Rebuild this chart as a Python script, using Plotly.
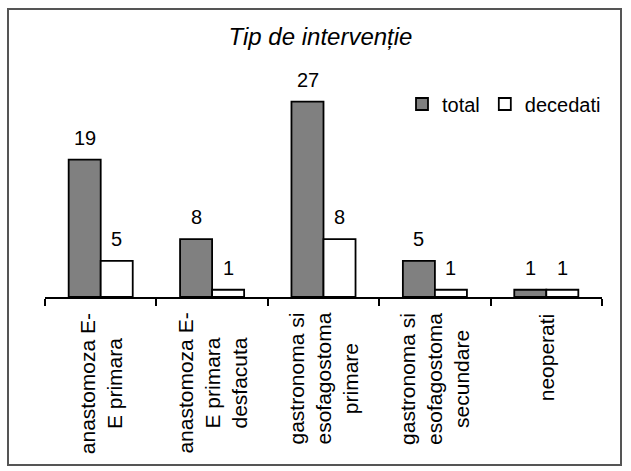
import plotly.graph_objects as go

# Intervention types (line breaks as printed under the axis)
categories = [
    "anastomoza E-<br>E primara",
    "anastomoza E-<br>E primara<br>desfacuta",
    "gastronoma si<br>esofagostoma<br>primare",
    "gastronoma si<br>esofagostoma<br>secundare",
    "neoperati",
]
total = [19, 8, 27, 5, 1]
decedati = [5, 1, 8, 1, 1]
series_names = ["total", "decedati"]
title_text = "Tip de intervenție"

W, H = 631, 471
ML, MR, MT, MB = 45, 29, 80, 174
PW, PH = W - ML - MR, H - MT - MB
FONT = "Liberation Sans, Arial, sans-serif"


def px_x(x):
    return (x - ML) / PW


def px_y(y):
    return (H - MB - y) / PH


fig = go.Figure()
fig.add_trace(go.Bar(
    x=categories, y=total, name=series_names[0],
    marker=dict(color="#808080", line=dict(color="black", width=1.8)),
))
fig.add_trace(go.Bar(
    x=categories, y=decedati, name=series_names[1],
    marker=dict(color="white", line=dict(color="black", width=1.8)),
))

annotations = []
# value labels above each bar
for values, shift in ((total, -16), (decedati, 16)):
    for cat, v in zip(categories, values):
        annotations.append(dict(
            x=cat, y=v, xref="x", yref="y", text=str(v), showarrow=False,
            xshift=shift, yshift=9, yanchor="bottom",
            font=dict(family=FONT, size=20, color="black"),
        ))
# rotated category labels under the axis
for cat in categories:
    annotations.append(dict(
        x=cat, y=px_y(311), xref="x", yref="paper", text=cat,
        showarrow=False, textangle=-90, yanchor="top", xanchor="center",
        align="center", font=dict(family=FONT, size=21, color="black"),
    ))

fig.update_layout(
    width=W, height=H,
    margin=dict(l=ML, r=MR, t=MT, b=MB),
    paper_bgcolor="white", plot_bgcolor="white",
    barmode="group", bargap=0.425, bargroupgap=0,
    title=dict(
        text=title_text, x=320.5 / W, xanchor="center",
        y=1 - 37 / H, yanchor="middle", yref="container",
        font=dict(family=FONT, size=24, color="black", style="italic"),
    ),
    xaxis=dict(
        range=[-0.5, len(categories) - 0.5], showgrid=False,
        showline=True, linecolor="black", linewidth=2,
        ticks="outside", tickson="boundaries", ticklen=7, tickwidth=2,
        tickcolor="black", showticklabels=False, fixedrange=True,
    ),
    yaxis=dict(range=[0, 30], visible=False, showgrid=False, fixedrange=True),
    legend=dict(
        orientation="h", x=px_x(606), xanchor="right",
        y=px_y(104), yanchor="middle", itemwidth=30,
        font=dict(family=FONT, size=20, color="black"),
        bgcolor="rgba(0,0,0,0)", traceorder="normal",
    ),
    showlegend=True,
    annotations=annotations,
    shapes=[dict(
        type="rect", xref="paper", yref="paper",
        x0=px_x(8), x1=px_x(621), y0=px_y(465), y1=px_y(9),
        line=dict(color="#555555", width=2), fillcolor="rgba(0,0,0,0)",
        layer="below",
    )],
)

fig.write_html("out.html")
